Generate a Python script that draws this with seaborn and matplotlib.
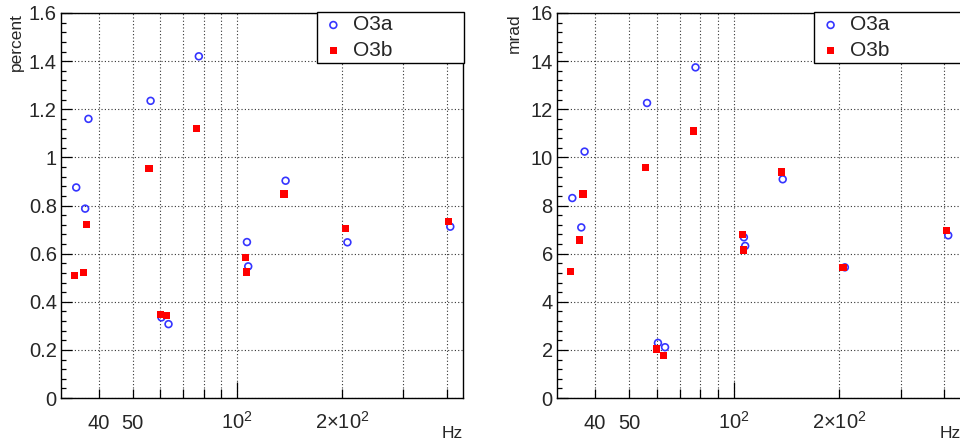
import numpy as np
import pandas as pd
import matplotlib
matplotlib.use("Agg")
import matplotlib.pyplot as plt
import seaborn as sns
from matplotlib.ticker import FixedLocator, MultipleLocator, FuncFormatter, NullFormatter, FixedFormatter

# ---------------- data ----------------
freq_o3a = [34.4, 36.5, 37.3, 56.3, 60.5, 63.4, 77.5, 106.6, 107.5, 137.7, 207.4, 410.0]
pct_o3a = [0.875, 0.787, 1.160, 1.235, 0.335, 0.307, 1.420, 0.648, 0.547, 0.903, 0.647, 0.712]
mrad_o3a = [8.31, 7.09, 10.24, 12.26, 2.29, 2.11, 13.74, 6.68, 6.32, 9.09, 5.43, 6.76]

freq_o3b = [34.0, 36.1, 36.9, 55.7, 60.0, 62.6, 76.5, 105.6, 106.2, 136.3, 205.0, 405.0]
pct_o3b = [0.508, 0.522, 0.722, 0.953, 0.348, 0.344, 1.121, 0.583, 0.524, 0.848, 0.704, 0.733]
mrad_o3b = [5.27, 6.57, 8.48, 9.57, 2.04, 1.75, 11.10, 6.79, 6.15, 9.39, 5.42, 6.95]

series_labels = ["O3a", "O3b"]
x_major = [40, 50, 100, 200]
x_major_labels = ["40", "50", "$10^{2}$", "2×$10^{2}$"]
x_minor = [60, 70, 80, 90, 300, 400]
x_limits = (31.1, 446)
y_units = ["percent", "mrad"]
y_max = [1.6, 16]
y_step = [0.2, 2]
x_unit = "Hz"

# ---------------- style ----------------
sns.set_style("ticks")
plt.rcParams["font.family"] = ["Liberation Sans", "DejaVu Sans"]
plt.rcParams["mathtext.default"] = "regular"

blue = "#3535ff"
red = "#ff0000"

fig = plt.figure(figsize=(9.6, 4.41), dpi=100)
W, H = 960.0, 441.0
ax_l = fig.add_axes([61 / W, 1 - 398 / H, 402 / W, 385 / H])
ax_r = fig.add_axes([557 / W, 1 - 398 / H, 404 / W, 385 / H])

panels = [
    (ax_l, pct_o3a, pct_o3b, 0, -0.092),
    (ax_r, mrad_o3a, mrad_o3b, 1, -0.087),
]

for ax, ya, yb, i, ylab_x in panels:
    df_a = pd.DataFrame({"f": freq_o3a, "v": ya})
    df_b = pd.DataFrame({"f": freq_o3b, "v": yb})
    sns.scatterplot(data=df_a, x="f", y="v", ax=ax, marker="o", s=24,
                    facecolor="none", edgecolor=blue, color=blue,
                    linewidth=1.2, label=series_labels[0], legend=False, zorder=3)
    sns.scatterplot(data=df_b, x="f", y="v", ax=ax, marker="s", s=27,
                    color=red, edgecolor="none", linewidth=0,
                    label=series_labels[1], legend=False, zorder=4)

    ax.set_xscale("log")
    ax.set_xlim(*x_limits)
    ax.set_ylim(0, y_max[i])

    ax.xaxis.set_major_locator(FixedLocator(x_major))
    ax.xaxis.set_major_formatter(FixedFormatter(x_major_labels))
    ax.xaxis.set_minor_locator(FixedLocator(x_minor))
    ax.xaxis.set_minor_formatter(NullFormatter())

    ax.yaxis.set_major_locator(MultipleLocator(y_step[i]))
    ax.yaxis.set_minor_locator(MultipleLocator(y_step[i] / 5))
    ax.yaxis.set_major_formatter(FuncFormatter(lambda v, p: f"{v:g}"))

    ax.tick_params(axis="x", which="both", direction="in", bottom=True, top=False,
                   length=6.5, width=0.9, color="black", labelsize=14.5, pad=22.5)
    ax.tick_params(axis="y", which="major", direction="in", left=True, right=False,
                   length=7.7, width=0.9, color="black", labelsize=14.5, pad=3)
    ax.tick_params(axis="y", which="minor", direction="in", left=True, right=False,
                   length=3.6, width=0.9, color="black")

    for lbl in ax.get_xticklabels():
        lbl.set_verticalalignment("baseline")
    for t, loc in zip(ax.xaxis.get_major_ticks(), x_major):
        if loc == 100:
            t.tick1line.set_markersize(11.5)

    ax.grid(True, which="major", axis="both", color="#333333", linestyle=(0, (1, 2)),
            linewidth=0.8)
    ax.grid(True, which="minor", axis="x", color="#333333", linestyle=(0, (1, 2)),
            linewidth=0.8)
    ax.grid(False, which="minor", axis="y")
    ax.set_axisbelow(True)

    for sp in ax.spines.values():
        sp.set_visible(True)
        sp.set_color("black")
        sp.set_linewidth(1.0)

    ax.set_xlabel("")
    ax.set_ylabel(y_units[i], loc="top", fontsize=12.5)
    ax.yaxis.set_label_coords(ylab_x, 1.0)
    ax.text(1.0, -0.091, x_unit, transform=ax.transAxes, ha="right", va="center",
            fontsize=12.5)

    leg = ax.legend(loc="upper right", bbox_to_anchor=(0.636, 0.8667, 0.3665, 0.135),
                    mode="expand", borderaxespad=0, fontsize=15, frameon=True,
                    fancybox=False, framealpha=1, edgecolor="black",
                    labelspacing=0.3, borderpad=0.15, handlelength=1.3,
                    handletextpad=0.3, scatterpoints=1)
    leg.get_frame().set_linewidth(1.0)
    leg.set_zorder(10)

fig.savefig("out.png", dpi=100, facecolor="white")
